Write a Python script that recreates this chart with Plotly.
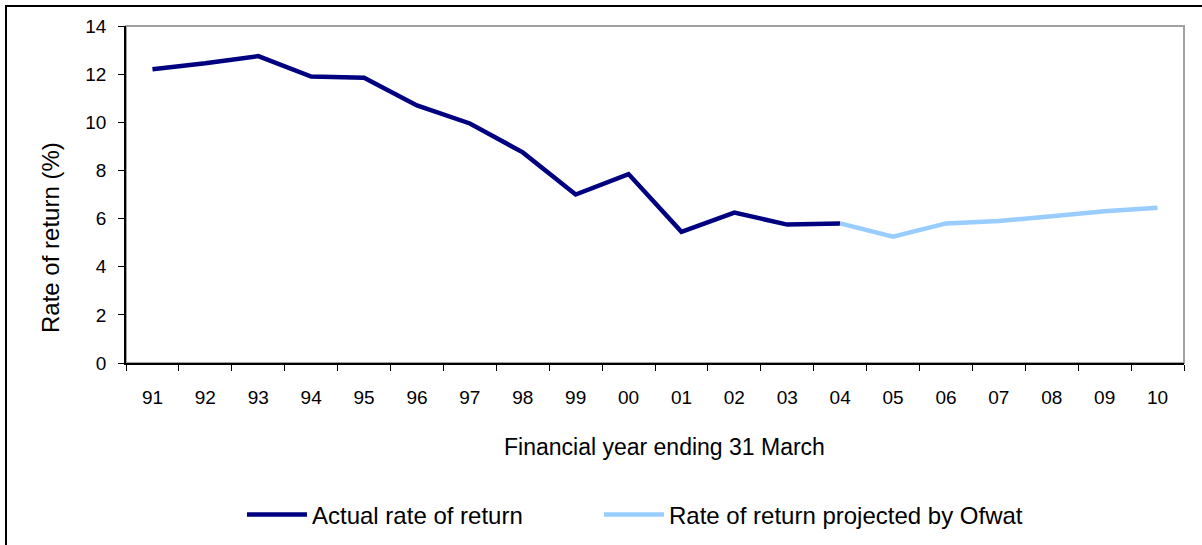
import plotly.graph_objects as go

years = ["91", "92", "93", "94", "95", "96", "97", "98", "99", "00",
         "01", "02", "03", "04", "05", "06", "07", "08", "09", "10"]
actual_years = years[:14]
actual_values = [12.2, 12.45, 12.75, 11.9, 11.85, 10.7, 9.95, 8.75, 7.0, 7.85,
                 5.45, 6.25, 5.75, 5.8]
proj_years = years[13:]
proj_values = [5.8, 5.25, 5.8, 5.9, 6.1, 6.3, 6.45]

x_title = "Financial year ending 31 March"
y_title = "Rate of return (%)"

FONT = "Liberation Sans, Arial, sans-serif"

W, H = 1202, 545
L, R, T, B = 126, 18, 26, 182
pw, ph = W - L - R, H - T - B

def px(x):
    return (x - L) / pw

def py(y):
    return (H - B - y) / ph

fig = go.Figure()
fig.add_trace(go.Scatter(x=actual_years, y=actual_values, mode="lines",
                         name="Actual rate of return", legend="legend",
                         line=dict(color="#000080", width=4.5)))
fig.add_trace(go.Scatter(x=proj_years, y=proj_values, mode="lines",
                         name="Rate of return projected by Ofwat", legend="legend2",
                         line=dict(color="#99ccff", width=4.5)))

leg_common = dict(orientation="h", yanchor="middle", font=dict(size=24, family=FONT),
                  itemwidth=60, bgcolor="rgba(0,0,0,0)")

fig.update_layout(
    width=W, height=H,
    margin=dict(l=L, r=R, t=T, b=B, autoexpand=False),
    paper_bgcolor="white", plot_bgcolor="white",
    font=dict(family=FONT, size=19, color="#000000"),
    showlegend=True,
    legend=dict(x=px(242), xanchor="left", y=py(515), **leg_common),
    legend2=dict(x=px(599), xanchor="left", y=py(515), **leg_common),
    xaxis=dict(type="category", categoryorder="array", categoryarray=years,
               range=[-0.5, 19.5], showline=True, linecolor="#000000", linewidth=1.5,
               ticks="outside", tickson="boundaries", ticklen=6, tickcolor="#000000",
               showgrid=False, zeroline=False, ticklabelstandoff=16),
    yaxis=dict(range=[0, 14], dtick=2, showline=True, linecolor="#000000", linewidth=1.5,
               ticks="outside", ticklen=6, tickcolor="#000000", showgrid=False,
               zeroline=False, ticklabelstandoff=8),
    annotations=[
        dict(text=x_title, xref="paper", yref="paper", x=px(664), y=py(447),
             xanchor="center", yanchor="middle", showarrow=False, font=dict(size=23)),
        dict(text=y_title, xref="paper", yref="paper", x=px(50), y=py(238),
             xanchor="center", yanchor="middle", textangle=-90, showarrow=False,
             font=dict(size=24)),
    ],
    shapes=[
        dict(type="rect", xref="paper", yref="paper", x0=0, x1=1, y0=0, y1=1,
             line=dict(color="#a0a0a0", width=2), layer="below"),
        dict(type="rect", xref="paper", yref="paper",
             x0=px(6), x1=px(1210), y0=py(560), y1=py(6),
             line=dict(color="#000000", width=2), layer="below"),
    ],
)

fig.write_html("out.html", config={"displayModeBar": False},
               post_script="document.body.style.margin='0px';")
